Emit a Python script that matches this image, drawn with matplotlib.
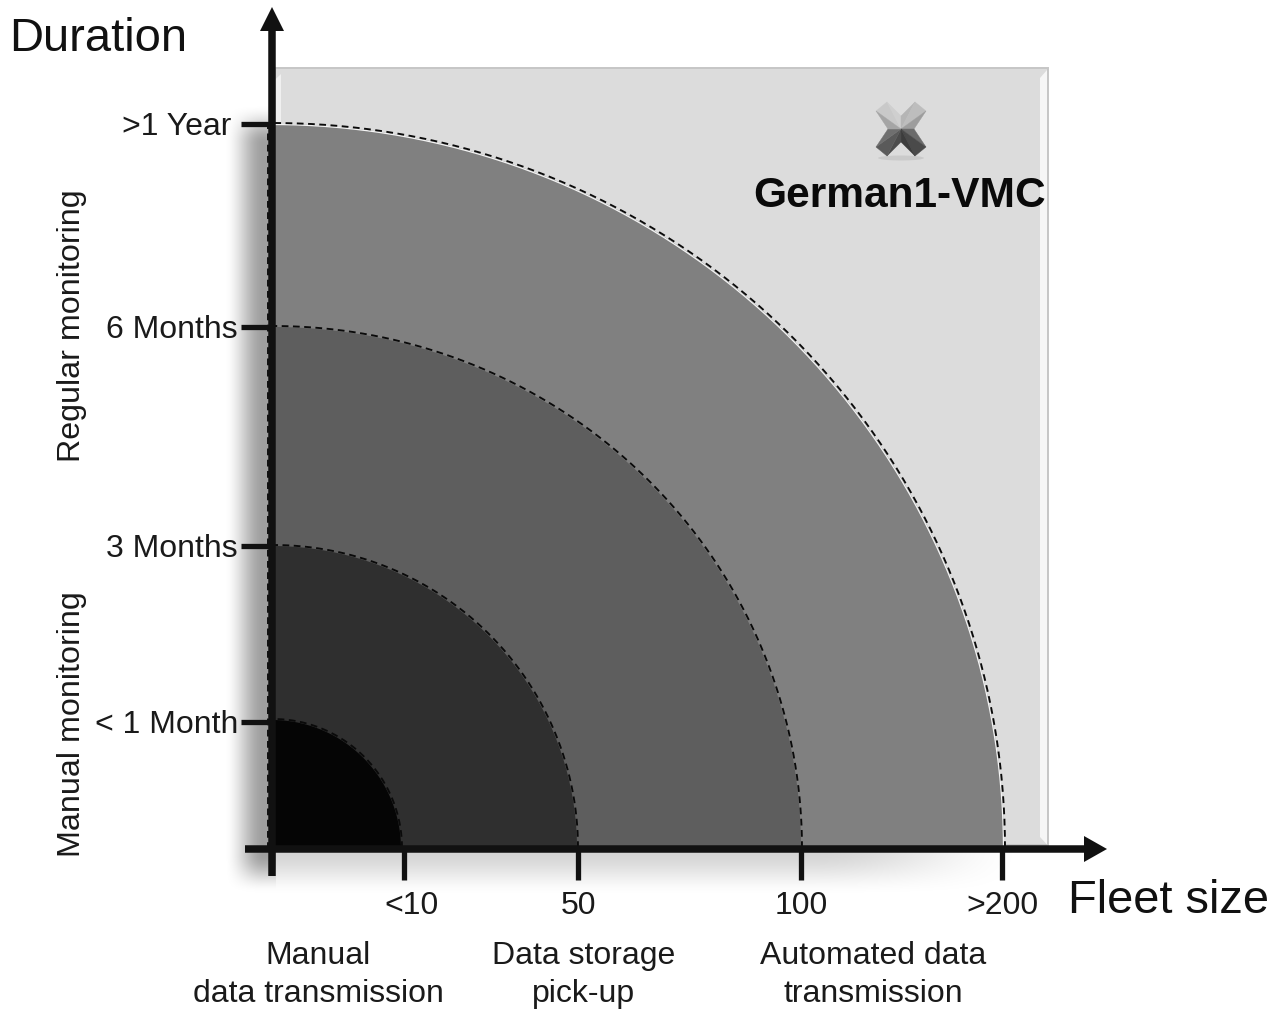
import numpy as np
import matplotlib
matplotlib.use("Agg")
import matplotlib.pyplot as plt
from matplotlib.patches import Polygon, Rectangle, Ellipse, FancyArrow

plt.rcParams['font.family'] = ['Liberation Sans', 'DejaVu Sans']

W, H = 1273, 1009
ORIGIN = (272, 849)

# extent of every zone along both axes (fleet size / duration), in chart units
fleet_extent = [129, 305, 529, 732]
duration_extent = [129, 303, 522, 725]
zone_colors = ['#050505', '#2f2f2f', '#5e5e5e', '#808080']
fleet_tick_pos = [132, 306, 529, 730]
fleet_tick_labels = ['<10', '50', '100', '>200']
duration_tick_pos = [127, 303, 522, 725]
duration_tick_labels = ['< 1 Month', '3 Months', '6 Months', '>1 Year']
transmission_labels = ['Manual\ndata transmission', 'Data storage\npick-up', 'Automated data\ntransmission']
transmission_pos = [46, 312, 601]
monitoring_labels = ['Manual monitoring', 'Regular monitoring']
monitoring_pos = [125, 523]
marker_pos = (629, 720)
marker_label = 'German1-VMC'

fig = plt.figure(figsize=(W / 100, H / 100), dpi=100, facecolor='white')
ax = fig.add_axes([0, 0, 1, 1])


def smooth(t):
    t = np.clip(t, 0, 1)
    return t * t * (3 - 2 * t)


# soft shadows
xx = np.arange(-ORIGIN[0], W - ORIGIN[0]) + .5
yy = np.arange(ORIGIN[1] - H, ORIGIN[1]) + .5
X, Y = np.meshgrid(xx, yy)
left = smooth((X + 48) / 40) * smooth((745 - Y) / 40) * smooth((Y + 45) / 40) * (X < 4)
bottom = smooth((Y + 48) / 46) * (Y < 2) * smooth((X + 48) / 40) * smooth((760 - X) / 220) * 0.17
alpha = np.maximum(left * 0.38, bottom)
img = np.zeros(X.shape + (4,))
img[..., 3] = alpha
ax.imshow(img, extent=(xx[0] - .5, xx[-1] + .5, yy[0] - .5, yy[-1] + .5), origin='lower',
          aspect='auto', zorder=1, interpolation='bilinear')
ax.set_xlim(-ORIGIN[0], W - ORIGIN[0])
ax.set_ylim(ORIGIN[1] - H, ORIGIN[1])
ax.axis('off')

# panel
ax.add_patch(Rectangle((3, 4), 773, 777, fc='#dcdcdc', ec='#c6c6c6', lw=1.4, zorder=2))
ax.add_patch(Polygon([[768, 12], [775, 4.5], [775, 779], [768, 771]], fc='#f6f6f6', ec='none', zorder=2.1))
ax.add_patch(Polygon([[3.7, 770], [9, 775], [9, 725], [3.7, 722]], fc='#f0f0f0', ec='none', zorder=2.1))

# zones, outermost first
for fx, dy, c in reversed(list(zip(fleet_extent, duration_extent, zone_colors))):
    t = np.linspace(0, np.pi / 2, 240)
    arc = np.column_stack([fx * np.cos(t), dy * np.sin(t)])
    ax.add_patch(Polygon(np.vstack([[0, 0], arc]), fc=c, ec='none', zorder=3))
    if c == zone_colors[-1]:
        ax.plot(arc[:, 0] - 0.5, arc[:, 1] - 0.5, color='#f4f4f4', lw=0.9, zorder=3.1)
    ax.plot(arc[:, 0] + 1, arc[:, 1] + 1, color='#0a0a0a', lw=1.35, ls=(0, (3.6, 2.4)), zorder=4)
ax.plot([-4, -4], [0, duration_extent[-1]], color='#0a0a0a', lw=1.35, ls=(0, (3.6, 2.4)), zorder=2.5)

AX = '#111111'
# axes
ax.add_patch(FancyArrow(-27, 0, 862, 0, width=7.5, head_width=26, head_length=23,
                        length_includes_head=True, fc=AX, ec='none', zorder=6))
ax.add_patch(FancyArrow(0, -27, 0, 869, width=7.5, head_width=24, head_length=24,
                        length_includes_head=True, fc=AX, ec='none', zorder=6))
for x, lab in zip(fleet_tick_pos, fleet_tick_labels):
    ax.plot([x, x], [0, -31], color=AX, lw=3.8, solid_capstyle='butt', zorder=6)
    ax.text(x + 8 if lab == '<10' else x, -57, lab, fontsize=23, ha='center', va='center', color='#1a1a1a', zorder=7)
for y, lab in zip(duration_tick_pos, duration_tick_labels):
    ax.plot([-31, 0], [y, y], color=AX, lw=3.8, solid_capstyle='butt', zorder=6)
    ax.text(-34 if lab != '>1 Year' else -41, y - 3, lab, fontsize=23, ha='right', va='center', color='#1a1a1a', zorder=7)

ax.text(-263, 810, 'Duration', fontsize=33.9, ha='left', va='center', color='#111111', zorder=7)
ax.text(796, -52, 'Fleet size', fontsize=33.8, ha='left', va='center', color='#111111', zorder=7)

for x, lab in zip(transmission_pos, transmission_labels):
    ax.text(x, -126, lab, fontsize=23, ha='center', va='center', linespacing=1.31, color='#1a1a1a', zorder=7)
for y, lab in zip(monitoring_pos, monitoring_labels):
    ax.text(-200, y, lab, fontsize=23.2, rotation=90, ha='center', va='center', color='#1a1a1a', zorder=7)

# bevelled cross marker
mx, my = marker_pos
ax.add_patch(Ellipse((mx, my - 29), 46, 5, fc='#000000', alpha=.08, ec='none', zorder=4.5))
cross = [(-25, 18), (-14, 27), (0, 13), (14, 27), (25, 18), (13, 0),
         (25, -18), (14, -27), (0, -13), (-14, -27), (-25, -18), (-13, 0)]
shades = ['#c9c9c9', '#cfcfcf', '#b5b5b5', '#bdbdbd', '#9d9d9d', '#6b6b6b',
          '#4a4a4a', '#3c3c3c', '#4c4c4c', '#5a5a5a', '#6f6f6f', '#a5a5a5']
pts = np.array(cross, dtype=float) + (mx, my)
for i in range(12):
    tri = [pts[i], pts[(i + 1) % 12], (mx, my)]
    ax.add_patch(Polygon(tri, fc=shades[i], ec=shades[i], lw=0.3, zorder=5.1))
ax.text(mx - 1, my - 67, marker_label, fontsize=30.6, fontweight='bold', ha='center', va='center', color='#0a0a0a', zorder=7)

fig.savefig('out.png', dpi=100, facecolor='white')
